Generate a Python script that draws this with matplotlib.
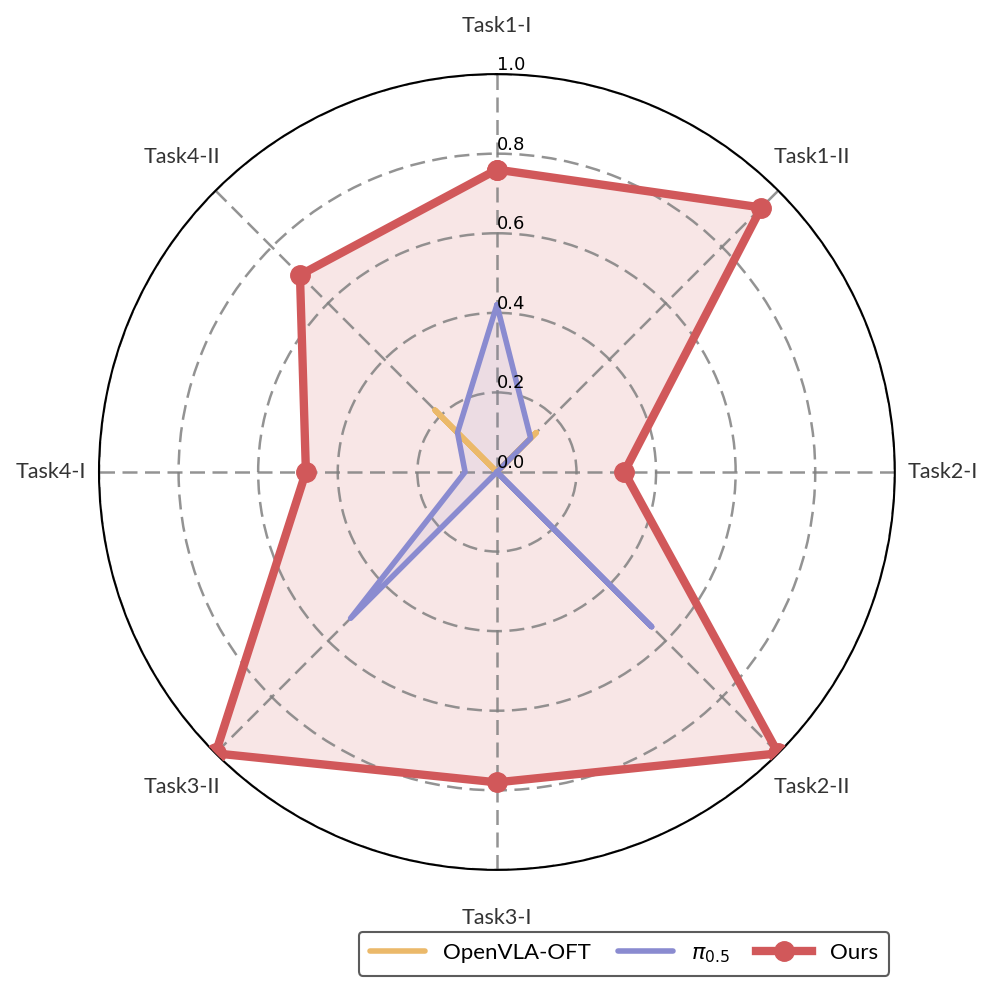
import numpy as np
import matplotlib.pyplot as plt

labels = ['Task1-I', 'Task1-II', 'Task2-I', 'Task2-II',
          'Task3-I', 'Task3-II', 'Task4-I', 'Task4-II']
openvla = [0.0, 0.14, 0.0, 0.0, 0.0, 0.0, 0.0, 0.22]
pi05 = [0.42, 0.12, 0.0, 0.55, 0.0, 0.52, 0.08, 0.14]
ours = [0.76, 0.94, 0.32, 1.0, 0.78, 1.0, 0.48, 0.70]
rticks = [0.0, 0.2, 0.4, 0.6, 0.8, 1.0]

c_yel = '#ebb96a'
c_blue = '#8a8bd0'
c_red = '#d1585a'

angles = np.linspace(0, 2 * np.pi, len(labels), endpoint=False)
ang = np.append(angles, angles[0])

def closed(v):
    return np.append(v, v[0])

fig = plt.figure(figsize=(9.96, 9.92), dpi=100)
ax = fig.add_axes([0.0994, 0.123, 0.799, 0.8024], projection='polar')
ax.set_theta_zero_location('N')
ax.set_theta_direction(-1)
ax.set_ylim(0, 1.0)

ax.plot(ang, closed(openvla), color=c_yel, lw=4, label='OpenVLA-OFT',
        solid_capstyle='round', zorder=3)
ax.fill(ang, closed(openvla), color=c_yel, alpha=0.1, zorder=2)
ax.plot(ang, closed(pi05), color=c_blue, lw=4, label=r'$\pi_{0.5}$',
        solid_capstyle='round', zorder=4)
ax.fill(ang, closed(pi05), color=c_blue, alpha=0.1, zorder=2)
ax.plot(ang, closed(ours), color=c_red, lw=6, marker='o', markersize=14,
        label='Ours', zorder=5)
ax.fill(ang, closed(ours), color=c_red, alpha=0.15, zorder=1)

ax.set_xticks(angles)
ax.set_xticklabels([])
for a, lab in zip(angles, labels):
    ax.text(a, 1.12, lab, ha='center', va='center', fontsize=15.5,
            family='Lato', color='#333333', clip_on=False)

ax.set_yticks(rticks)
ax.set_yticklabels([])
for r in rticks:
    ax.text(0, r, '%.1f' % r, ha='left', va='bottom', fontsize=13,
            color='black', zorder=6)

ax.grid(True, color='gray', linestyle=(0, (6, 3)), linewidth=1.8, alpha=0.85)
ax.spines['polar'].set_color('black')
ax.spines['polar'].set_linewidth(1.5)

leg = fig.legend(loc='upper right', bbox_to_anchor=(0.8926, 0.0605),
                 ncol=3, frameon=True, borderaxespad=0,
                 prop={'family': 'Lato', 'size': 16}, handlelength=2.5,
                 handletextpad=0.8, columnspacing=1.2, borderpad=0.5)
leg.get_frame().set_edgecolor('#333333')
leg.get_frame().set_linewidth(1.5)

fig.savefig('out.png', dpi=100)
